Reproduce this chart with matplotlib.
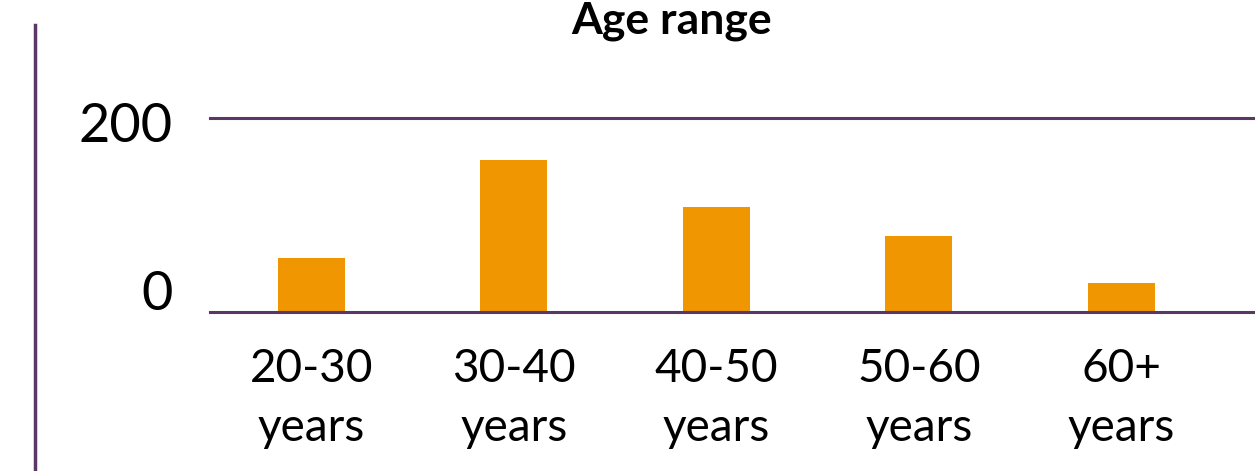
import matplotlib
matplotlib.use("Agg")
import matplotlib.pyplot as plt
from matplotlib.lines import Line2D

# Daten
kategorien = ["20-30\nyears", "30-40\nyears", "40-50\nyears", "50-60\nyears", "60+\nyears"]
werte = [56, 157, 108, 78, 30]
y_ticks = [0, 200]

orange = "#F09600"
lila = "#5A3764"

plt.rcParams['font.family'] = ['Lato', 'DejaVu Sans']

fig = plt.figure(figsize=(12.55, 4.71), dpi=100)
ax = fig.add_axes([210 / 1255, 1 - 312 / 471, 1 - 210 / 1255, 194 / 471])

x = list(range(len(werte)))
ax.bar(x, werte, width=0.33, color=orange, zorder=1)

ax.set_xlim(-0.5, 4.66)
ax.set_ylim(0, 200)

for s in ["left", "right"]:
    ax.spines[s].set_visible(False)
for s in ["top", "bottom"]:
    ax.spines[s].set_color(lila)
    ax.spines[s].set_linewidth(2.2)
    ax.spines[s].set_zorder(3)

ax.set_xticks(x)
ax.set_xticklabels(kategorien, fontsize=33, linespacing=1.5)
ax.tick_params(axis="x", length=0, pad=26)
ax.set_yticks([])

# y-Beschriftung (leicht versetzt wie im Original)
versatz = {0: 18, 200: -8}
for v in y_ticks:
    ax.annotate(str(v), xy=(0, v), xycoords=ax.get_yaxis_transform(),
                xytext=(-37, versatz[v]), textcoords="offset pixels",
                ha="right", va="center", fontsize=39, annotation_clip=False)

fig.text(672 / 1255, 1 - 21 / 471, "Age range", ha="center", va="center",
         fontsize=32, fontweight="bold")

fig.add_artist(Line2D([35 / 1255, 35 / 1255], [0, 1 - 25 / 471],
                      transform=fig.transFigure, color=lila, linewidth=2.5))

plt.savefig("out.png", dpi=100)
